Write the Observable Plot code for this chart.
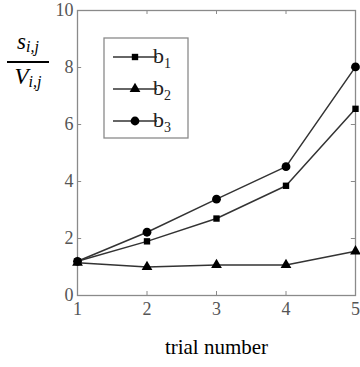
<!DOCTYPE html>
<html>
<head>
<meta charset="utf-8">
<script src="https://cdn.jsdelivr.net/npm/d3@7"></script>
<script src="https://cdn.jsdelivr.net/npm/@observablehq/plot@0.6"></script>
<style>
  html, body { margin: 0; padding: 0; background: #fff; }
  #wrap { position: relative; width: 360px; height: 367px; }
  #ylab { position: absolute; left: 7px; top: 30px; width: 42px; text-align: center;
          font-family: "Liberation Serif", "DejaVu Serif", serif; font-style: italic; font-size: 23px; color: #000; }
  #ylab .num { display: block; padding-bottom: 2px; border-bottom: 2.5px solid #000; line-height: 24px; }
  #ylab .den { display: block; padding-top: 2px; line-height: 24px; }
  #ylab sub { font-size: 16px; vertical-align: -3px; }
  svg text { font-family: "Liberation Serif", "Times New Roman", serif; }
</style>
</head>
<body>
<div id="wrap">
  <div id="chart"></div>
  <div id="ylab"><span class="num">s<sub>i,j</sub></span><span class="den">V<sub>i,j</sub></span></div>
</div>
<script>
const trials = [1, 2, 3, 4, 5];
const b1 = [1.2, 1.9, 2.7, 3.85, 6.55];
const b2 = [1.15, 1.0, 1.07, 1.07, 1.55];
const b3 = [1.2, 2.22, 3.38, 4.52, 8.02];
const seriesNames = ["b1", "b2", "b3"];
const seriesSymbols = ["square", "triangle", "circle"];
const xTicks = [1, 2, 3, 4, 5];
const yTicks = [0, 2, 4, 6, 8, 10];

const serif = "Liberation Serif, Times New Roman, serif";
const lineColor = "#333";
const frameColor = "#8a8a8a";
const mk = (vals) => trials.map((t, i) => ({x: t, y: vals[i]}));
const data = [mk(b1), mk(b2), mk(b3)];
const rs = [3.6, 4.0, 4.4];

const chart = Plot.plot({
  width: 360,
  height: 367,
  marginLeft: 77,
  marginRight: 5,
  marginTop: 10,
  marginBottom: 72,
  style: {fontFamily: serif, background: "#fff", overflow: "visible"},
  x: {domain: [1, 5], ticks: xTicks, label: null},
  y: {domain: [0, 10], ticks: yTicks, label: null},
  marks: [
    Plot.axisX({ticks: xTicks, tickSize: 0, tickPadding: 7, fontSize: 18, fontFamily: serif, fill: "#555", tickFormat: d3.format("d")}),
    Plot.axisY({ticks: yTicks, tickSize: 0, tickPadding: 4, fontSize: 18, fontFamily: serif, fill: "#555", tickFormat: d3.format("d")}),
    // inward tick marks
    Plot.ruleX(xTicks.slice(1, -1), {x: d => d, y1: 0, y2: 0.14, stroke: frameColor}),
    Plot.ruleX(xTicks.slice(1, -1), {x: d => d, y1: 9.86, y2: 10, stroke: frameColor}),
    Plot.ruleY(yTicks.slice(1, -1), {y: d => d, x1: 1, x2: 1.06, stroke: frameColor}),
    Plot.ruleY(yTicks.slice(1, -1), {y: d => d, x1: 4.94, x2: 5, stroke: frameColor}),
    Plot.frame({stroke: frameColor, strokeWidth: 1.3}),
    ...data.map(d => Plot.line(d, {x: "x", y: "y", stroke: lineColor, strokeWidth: 1.5})),
    ...data.map((d, i) => Plot.dot(d, {x: "x", y: "y", symbol: () => seriesSymbols[i], r: rs[i], fill: "#000", stroke: "none"})),
    Plot.text(["trial number"], {frameAnchor: "bottom", dy: 58, text: d => d, fontSize: 21, fontFamily: serif, fill: "#000", lineAnchor: "bottom"})
  ]
});
document.getElementById("chart").appendChild(chart);

// legend drawn into the svg
const svg = d3.select(chart);
const lg = svg.append("g").attr("transform", "translate(104,38)");
lg.append("rect").attr("width", 84).attr("height", 100).attr("fill", "#fff").attr("stroke", frameColor).attr("stroke-width", 1.3);
seriesNames.forEach((name, i) => {
  const yy = 19 + i * 32;
  const g = lg.append("g").attr("transform", `translate(0,${yy})`);
  g.append("line").attr("x1", 9).attr("x2", 53).attr("y1", 0).attr("y2", 0).attr("stroke", lineColor).attr("stroke-width", 1.6);
  const sym = {square: d3.symbolSquare, triangle: d3.symbolTriangle, circle: d3.symbolCircle}[seriesSymbols[i]];
  g.append("path").attr("transform", "translate(31,0)").attr("d", d3.symbol(sym, Math.PI * rs[i] * rs[i])()).attr("fill", "#000");
  const t = g.append("text").attr("x", 58).attr("y", 6).attr("font-size", 22).attr("fill", "#222")
    .style("font-family", serif);
  t.append("tspan").text(name[0]);
  t.append("tspan").attr("font-size", 14).attr("dy", 5).text(name.slice(1));
});
</script>
</body>
</html>
